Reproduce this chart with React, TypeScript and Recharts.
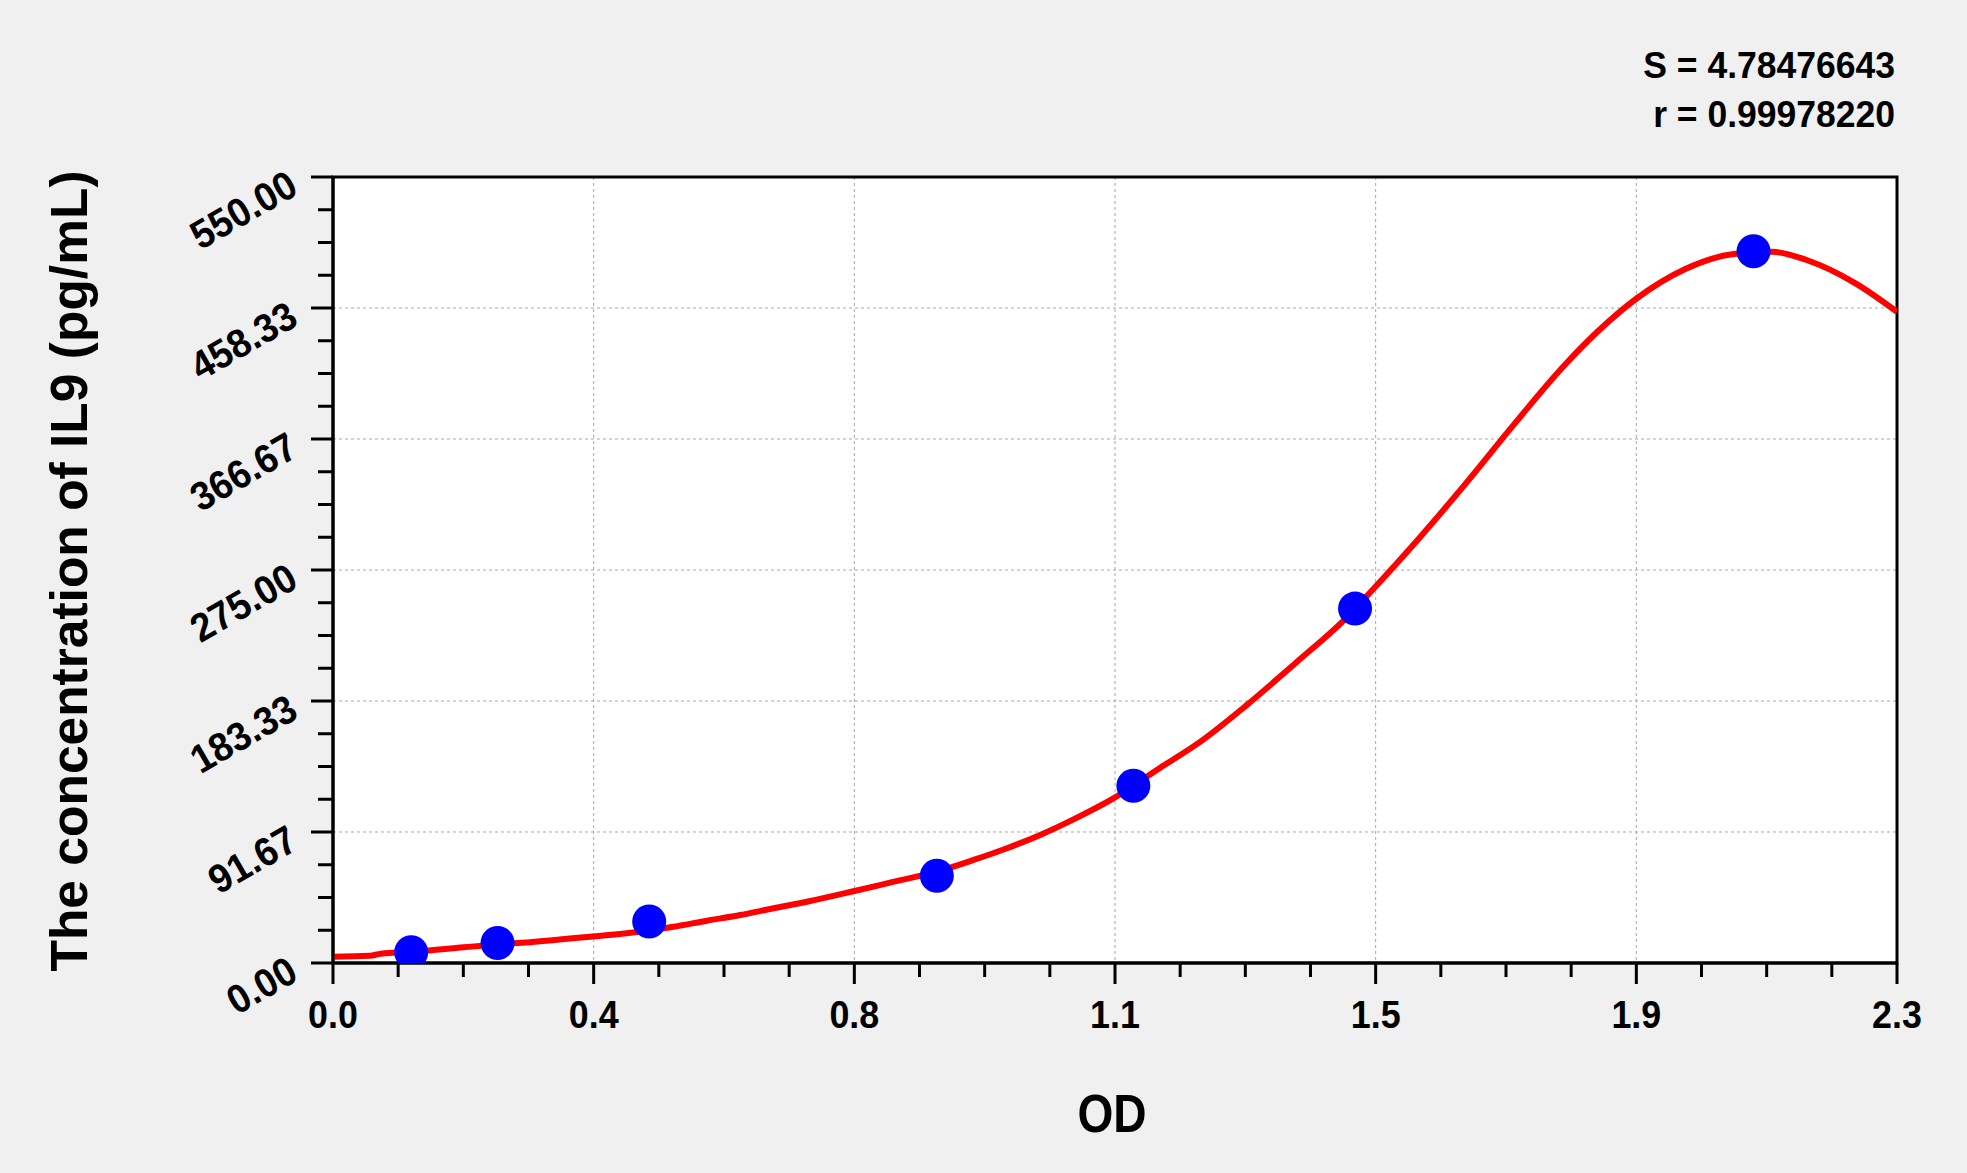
import React from 'react';
import {
    ComposedChart,
    XAxis,
    YAxis,
    CartesianGrid,
    Scatter,
    Line,
    ReferenceArea,
} from 'recharts';

// standard points (OD, concentration)
const stdOd = [0.115, 0.242, 0.465, 0.888, 1.177, 1.503, 2.089];
const stdConc = [7.5, 14.0, 29.0, 61.0, 124.0, 248.0, 498.0];

// fitted curve
const curveOd = [
    0.0, 0.054, 0.07, 0.123, 0.192, 0.242, 0.29, 0.378, 0.451, 0.501, 0.55,
    0.599, 0.648, 0.697, 0.767, 0.819, 0.888, 0.942, 0.991, 1.04, 1.089,
    1.147, 1.216, 1.273, 1.345, 1.417, 1.488, 1.533, 1.595, 1.666, 1.738,
    1.809, 1.859, 1.917, 1.988, 2.06, 2.117, 2.167, 2.239, 2.3,
];
const curveConc = [
    4.4, 5.0, 6.5, 8.0, 11.0, 13.0, 14.6, 18.4, 21.9, 25.4, 29.6, 33.6, 38.3,
    42.9, 50.4, 56.2, 63.9, 72.1, 80.3, 89.6, 100.5, 115.0, 136.5, 154.0,
    181.0, 210.5, 240.5, 263.3, 296.0, 335.6, 377.6, 417.2, 441.5, 465.0,
    485.5, 496.1, 497.7, 491.9, 475.6, 455.7,
];

const xMajorTicks = [0, 0.38333, 0.76667, 1.15, 1.53333, 1.91667, 2.3];
const xTickLabels = ['0.0', '0.4', '0.8', '1.1', '1.5', '1.9', '2.3'];
const yMajorTicks = [0, 91.667, 183.333, 275, 366.667, 458.333, 550];
const yTickLabels = ['0.00', '91.67', '183.33', '275.00', '366.67', '458.33', '550.00'];

const stats = ['S = 4.78476643', 'r = 0.99978220'];
const xTitle = 'OD';
const yTitle = 'The concentration of IL9 (pg/mL)';

const FONT = '"Liberation Sans", Arial, sans-serif';

// 4 minor intervals between major ticks
const withMinor = (major: number[]) => {
    const out: number[] = [];
    for (let i = 0; i < major.length - 1; i++) {
        const step = (major[i + 1] - major[i]) / 4;
        for (let k = 0; k < 4; k++) out.push(major[i] + step * k);
    }
    out.push(major[major.length - 1]);
    return out;
};

const xAllTicks = withMinor(xMajorTicks);
const yAllTicks = withMinor(yMajorTicks);

const stdData = stdOd.map((x, i) => ({ x, y: stdConc[i] }));
const curveData = curveOd.map((x, i) => ({ x, y: curveConc[i] }));

const findMajor = (arr: number[], v: number) =>
    arr.findIndex((m) => Math.abs(m - v) < 1e-6);

const XTick = (props: any) => {
    const { x, y, payload } = props;
    const idx = findMajor(xMajorTicks, payload.value);
    const major = idx >= 0;
    return (
        <g>
            <line
                x1={x}
                x2={x}
                y1={y}
                y2={y + (major ? 21 : 14)}
                stroke="#000"
                strokeWidth={3}
            />
            {major && (
                <text
                    transform={`translate(${x},${y + 65}) scale(0.92,1)`}
                    textAnchor="middle"
                    fontFamily={FONT}
                    fontWeight="bold"
                    fontSize={39}
                    fill="#000"
                >
                    {xTickLabels[idx]}
                </text>
            )}
        </g>
    );
};

const YTick = (props: any) => {
    const { x, y, payload } = props;
    const idx = findMajor(yMajorTicks, payload.value);
    const major = idx >= 0;
    return (
        <g>
            <line
                x1={x - (major ? 22 : 15)}
                x2={x}
                y1={y}
                y2={y}
                stroke="#000"
                strokeWidth={3}
            />
            {major && (
                <text
                    transform={`translate(${x - 33},${y + 16}) rotate(-30) scale(0.94,1)`}
                    textAnchor="end"
                    fontFamily={FONT}
                    fontWeight="bold"
                    fontSize={40}
                    fill="#000"
                >
                    {yTickLabels[idx]}
                </text>
            )}
        </g>
    );
};

const Dot = (props: any) => (
    <circle cx={props.cx} cy={props.cy} r={17} fill="#0000ff" />
);

export default function App() {
    return (
        <div
            style={{
                position: 'absolute',
                left: 0,
                top: 0,
                width: 1967,
                height: 1173,
                background: '#f0f0f0',
            }}
        >
            <ComposedChart
                width={1967}
                height={1173}
                margin={{ top: 177, right: 70, bottom: 110, left: 183 }}
            >
                <CartesianGrid
                    fill="#ffffff"
                    fillOpacity={1}
                    stroke="#a8a8a8"
                    strokeDasharray="3 3"
                    verticalValues={xMajorTicks.slice(1, -1)}
                    horizontalValues={yMajorTicks.slice(1, -1)}
                />
                <XAxis
                    type="number"
                    dataKey="x"
                    domain={[0, 2.3]}
                    ticks={xAllTicks}
                    interval={0}
                    height={100}
                    tickSize={0}
                    tickMargin={0}
                    tickLine={false}
                    tick={<XTick />}
                    axisLine={{ stroke: '#000', strokeWidth: 3 }}
                    allowDataOverflow
                />
                <YAxis
                    type="number"
                    domain={[0, 550]}
                    ticks={yAllTicks}
                    interval={0}
                    width={150}
                    tickSize={0}
                    tickMargin={0}
                    tickLine={false}
                    tick={<YTick />}
                    axisLine={{ stroke: '#000', strokeWidth: 3 }}
                    allowDataOverflow
                />
                <ReferenceArea
                    x1={0}
                    x2={2.3}
                    y1={0}
                    y2={550}
                    fill="none"
                    stroke="#000"
                    strokeWidth={3}
                />
                <Scatter
                    data={stdData}
                    dataKey="y"
                    shape={<Dot />}
                    isAnimationActive={false}
                />
                <Line
                    data={curveData}
                    dataKey="y"
                    type="monotone"
                    stroke="#ff0000"
                    strokeWidth={6}
                    dot={false}
                    activeDot={false}
                    isAnimationActive={false}
                />
            </ComposedChart>
            <svg
                width={1967}
                height={1173}
                style={{ position: 'absolute', left: 0, top: 0, pointerEvents: 'none' }}
            >
                {stats.map((s, i) => (
                    <text
                        key={s}
                        transform={`translate(1895,${78 + i * 49}) scale(0.96,1)`}
                        textAnchor="end"
                        fontFamily={FONT}
                        fontWeight="bold"
                        fontSize={37}
                        fill="#000"
                    >
                        {s}
                    </text>
                ))}
                <text
                    transform="translate(1112,1132) scale(0.87,1)"
                    textAnchor="middle"
                    fontFamily={FONT}
                    fontWeight="bold"
                    fontSize={53}
                    fill="#000"
                >
                    {xTitle}
                </text>
                <text
                    transform="translate(87,571) rotate(-90)"
                    textAnchor="middle"
                    fontFamily={FONT}
                    fontWeight="bold"
                    fontSize={51.5}
                    fill="#000"
                >
                    {yTitle}
                </text>
            </svg>
        </div>
    );
}
